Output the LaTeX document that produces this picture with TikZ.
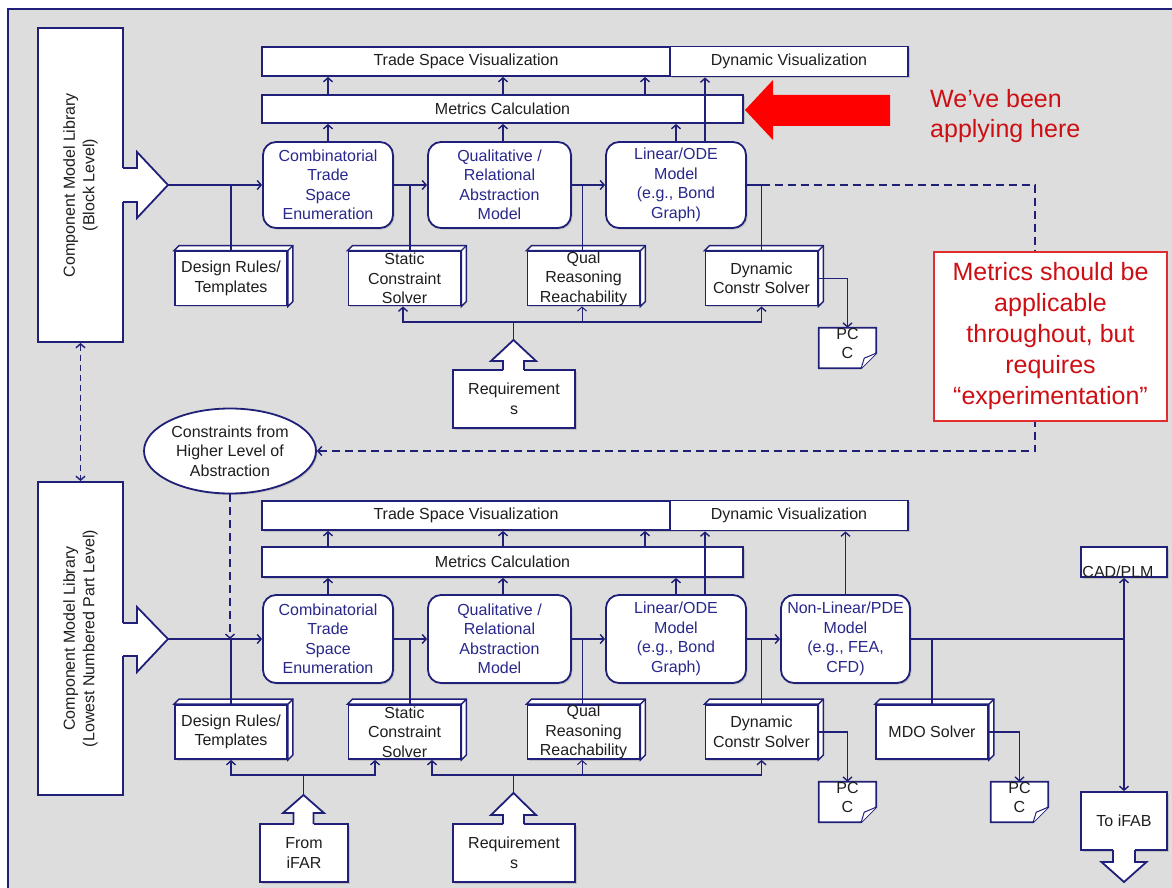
\documentclass[tikz,border=0pt]{standalone}
\usepackage{fontspec}
\setmainfont{Liberation Sans}
\usetikzlibrary{arrows.meta,shapes.geometric,shadows}
\definecolor{nv}{RGB}{32,32,120}
\definecolor{navytxt}{RGB}{40,40,140}
\definecolor{bgc}{RGB}{221,221,221}
\definecolor{txt}{RGB}{30,30,30}
\definecolor{redarrow}{RGB}{255,0,0}
\definecolor{redtxt}{RGB}{205,15,20}
\definecolor{redline}{RGB}{225,45,45}
\tikzset{
  bl/.style={draw=nv, line width=1.8pt},
  conn/.style={draw=nv, line width=1.4pt},
  arr/.style={conn, -{Straight Barb[length=4pt,width=9pt]}},
  barr/.style={conn, {Straight Barb[length=4pt,width=9pt]}-{Straight Barb[length=4pt,width=9pt]}},
  dsh/.style={dash pattern=on 8pt off 5pt},
  dshb/.style={dash pattern=on 6pt off 4pt},
  ftext/.style={font=\fontsize{16}{19.5}\selectfont},
  shd/.style={drop shadow={shadow xshift=1.5pt,shadow yshift=-1.5pt,opacity=0.3}},
  wboxns/.style={bl, fill=white, inner sep=0pt, ftext, text=txt, align=center},
  wbox/.style={wboxns, shd},
  rbox/.style={wbox, rounded corners=13pt, text=navytxt},
  cube/.style={wbox, minimum width=112pt, minimum height=54pt},
  lbl/.style={ftext, text=txt, align=center, inner sep=0pt},
}
\newcommand\cubenode[4]{%
  \node[cube] (#1) at (#2,#3) {};
  \draw[bl, line width=1.4pt, fill=white] (#1.north west) -- ++(5,-5) -- ([shift={(5,-5)}]#1.north east) -- ([shift={(5,-5)}]#1.south east) -- (#1.south east) -- (#1.north east) -- cycle;
  \draw[bl, line width=1.4pt] (#1.north east) -- ++(5,-5);
  \node[lbl] (#1t) at (#1) {#4};
}
\newcommand\docnode[4]{%
  \node[inner sep=0pt, minimum width=57pt, minimum height=40pt] (#1) at (#2,#3) {};
  \draw[bl, fill=white] (#1.north west) -- (#1.north east) -- ([yshift=15pt]#1.south east) -- ([xshift=-15pt]#1.south east) -- (#1.south west) -- cycle;
  \draw[bl, line width=1pt, fill=white] ([yshift=15pt]#1.south east) .. controls ([xshift=-6pt,yshift=12pt]#1.south east) .. ([xshift=-12pt,yshift=10pt]#1.south east) -- ([xshift=-15pt]#1.south east);
  \node[lbl] (#1t) at ([yshift=4.5pt]#1.center) {#4};
}
\newcommand\blkarr[7]{%
  \fill[white] ({#1-#5},#3) rectangle ({#1+#5},#7);
  \draw[bl, fill=white] ({#1-#5},#2) -- ({#1-#5},#3) -- ({#1-#6},#3) -- (#1,#4) -- ({#1+#6},#3) -- ({#1+#5},#3) -- ({#1+#5},#2);
}
\begin{document}
\begin{tikzpicture}[x=1pt,y=-1pt]
\useasboundingbox (0,0) rectangle (1172,888);
\fill[bgc] (8,9) rectangle (1172,888);
\draw[nv, line width=1.8pt] (8,888) -- (8,9) -- (1172,9);

% ---------- libraries ----------
\node[wboxns, rotate=90, minimum width=314pt, minimum height=85pt] (lib1) at (80.5,185) {Component Model Library\\(Block Level)};
\fill[white] (122,168) rectangle (137,202);
\draw[bl, fill=white] (123,168) -- (137,168) -- (137,152) -- (168,185) -- (137,218) -- (137,202) -- (123,202);
\coordinate (lib1tip) at (168,185);

\node[wboxns, rotate=90, minimum width=313pt, minimum height=85pt] (lib2) at (80.5,638.5) {Component Model Library\\(Lowest Numbered Part Level)};
\fill[white] (122,623) rectangle (137,656);
\draw[bl, fill=white] (123,623) -- (137,623) -- (137,607) -- (168,639) -- (137,672) -- (137,656) -- (123,656);
\coordinate (lib2tip) at (168,639);

% ---------- top section ----------
\node[wbox, minimum width=408pt, minimum height=29pt] (tsv1) at (466,61.5) {Trade Space Visualization};
\node[wbox, minimum width=238pt, minimum height=30pt] (dv1) at (789,61.5) {Dynamic Visualization};
\node[wbox, minimum width=481pt, minimum height=28pt] (met1) at (502.5,109) {Metrics Calculation};
\node[rbox, minimum width=130pt, minimum height=86pt] (comb1) at (328,185) {Combinatorial\\Trade\\Space\\Enumeration};
\node[rbox, minimum width=143pt, minimum height=86pt] (qual1) at (499.5,185) {Qualitative /\\Relational\\Abstraction\\Model};
\node[rbox, minimum width=140pt, minimum height=86pt] (lin1) at (676,185) {Linear/ODE\\Model\\(e.g., Bond\\Graph)};
\cubenode{dr1}{231}{278.5}{Design Rules/\\Templates}
\cubenode{sc1}{404.5}{278.5}{Static\\Constraint\\Solver}
\cubenode{qr1}{583.5}{278.5}{Qual\\Reasoning\\Reachability}
\cubenode{dcs1}{761.5}{278.5}{Dynamic\\Constr Solver}
\docnode{pcc1}{847.5}{348}{PC\\C}
\node[wbox, minimum width=122pt, minimum height=58pt] (req1) at (514,399) {Requirement\\s};
\blkarr{513.5}{370}{361}{340}{10.5}{22.5}{371.5}
\coordinate (req1tip) at (513.5,340);
\coordinate (bus1) at (513.5,322);

\fill[redarrow] (745,110) -- (773,80) -- (773,95) -- (890,95) -- (890,126) -- (773,126) -- (773,140) -- cycle;
\node[font=\fontsize{25}{30.5}\selectfont, text=redtxt, align=left, anchor=north west, inner sep=0pt] (weve) at (930,89) {We’ve been\\applying here};

\node[draw=nv, line width=1.8pt, fill=white, ellipse, shd, minimum width=172pt, minimum height=85pt, lbl] (ell) at (230,451) {Constraints from\\Higher Level of\\Abstraction};

% top connectors
\draw[arr] (lib1tip) -- (comb1.west);
\draw[arr] (comb1.east) -- (qual1.west);
\draw[arr] (qual1.east) -- (lin1.west);
\draw[conn] (dr1.north) -- (dr1.north |- lib1tip);
\draw[conn] ([xshift=5.5pt]sc1.north) -- ([xshift=5.5pt]sc1.north |- comb1.east);
\draw[conn, line width=1pt] ([xshift=-1.5pt]qr1.north) -- ([xshift=-1.5pt]qr1.north |- qual1.east);
\draw[conn] (dcs1.north) -- (dcs1.north |- lin1.east);
\draw[conn] (lin1.east) -- (dcs1.north |- lin1.east);
\coordinate (dcorner) at (1035,185);
\draw[arr, dsh] (dcs1.north |- lin1.east) -- (dcorner) |- (ell.east);
\draw[arr] (comb1.north) -- (comb1.north |- met1.south);
\draw[arr] ([xshift=3.5pt]qual1.north) -- ([xshift=3.5pt]qual1.north |- met1.south);
\draw[arr] (lin1.north) -- (lin1.north |- met1.south);
\draw[arr] (comb1.north |- met1.north) -- (comb1.north |- tsv1.south);
\draw[arr] ([xshift=3.5pt]qual1.north |- met1.north) -- ([xshift=3.5pt]qual1.north |- tsv1.south);
\draw[arr] ([xshift=-31pt]lin1.north |- met1.north) -- ([xshift=-31pt]lin1.north |- tsv1.south);
\draw[arr] ([xshift=29pt]lin1.north) -- ([xshift=29pt]lin1.north |- dv1.south);
\draw[conn] (req1tip) -- (bus1);
\draw[arr] (bus1) -| ([xshift=-1.5pt]sc1.south);
\draw[arr] (bus1) -| (dcs1.south);
\draw[arr, line width=1pt] ([xshift=-1.5pt]qr1.south |- bus1) -- ([xshift=-1.5pt]qr1.south);
\draw[arr] (dcs1.east) -| (pcc1.north);

\node[draw=redline, line width=1.3pt, fill=white, minimum width=233pt, minimum height=169pt, inner sep=0pt, align=center, text=redtxt, font=\fontsize{25}{31}\selectfont] (note) at (1050.5,336.5) {Metrics should be\\applicable\\throughout, but\\requires\\“experimentation”};

\draw[barr, dshb] (lib1.west) -- (lib2.east);

% ---------- bottom section ----------
\node[wbox, minimum width=408pt, minimum height=29pt] (tsv2) at (466,515.5) {Trade Space Visualization};
\node[wbox, minimum width=238pt, minimum height=30pt] (dv2) at (789,515.5) {Dynamic Visualization};
\node[wbox, minimum width=481pt, minimum height=30pt] (met2) at (502.5,562) {Metrics Calculation};
\node[rbox, minimum width=130pt, minimum height=88pt] (comb2) at (328,639) {Combinatorial\\Trade\\Space\\Enumeration};
\node[rbox, minimum width=143pt, minimum height=88pt] (qual2) at (499.5,639) {Qualitative /\\Relational\\Abstraction\\Model};
\node[rbox, minimum width=140pt, minimum height=88pt] (lin2) at (676,639) {Linear/ODE\\Model\\(e.g., Bond\\Graph)};
\node[rbox, minimum width=129pt, minimum height=88pt] (nl2) at (845.5,639) {Non-Linear/PDE\\Model\\(e.g., FEA,\\CFD)};
\cubenode{dr2}{231}{732}{Design Rules/\\Templates}
\cubenode{sc2}{404.5}{732}{Static\\Constraint\\Solver}
\cubenode{qr2}{583.5}{732}{Qual\\Reasoning\\Reachability}
\cubenode{dcs2}{761.5}{732}{Dynamic\\Constr Solver}
\cubenode{mdo2}{932}{732}{MDO Solver}
\docnode{pcc2}{847.5}{802}{PC\\C}
\docnode{pcc3}{1019.5}{802}{PC\\C}
\node[wbox, minimum width=86pt, minimum height=30pt] (cad) at (1124,562) {};
\node[lbl, anchor=base] (cadt) at (1118,577) {CAD/PLM};
\node[wbox, minimum width=86pt, minimum height=58pt] (toifab) at (1124,821) {To iFAB};
\blkarr{1124}{850}{862}{882}{11}{22.5}{848.5}
\node[wbox, minimum width=88pt, minimum height=58pt] (fib) at (304,853) {From\\iFAR};
\blkarr{303.5}{824}{813}{795}{10}{20.5}{825.5}
\node[wbox, minimum width=122pt, minimum height=58pt] (req2) at (514,853) {Requirement\\s};
\blkarr{513.5}{824}{815}{793}{10.5}{22.5}{825.5}
\coordinate (req2tip) at (513.5,793);
\coordinate (bus2) at (513.5,775);
\coordinate (fibtip) at (303.5,795);
\coordinate (bus3) at (303.5,775);
\coordinate (j2) at (1124,639);

% bottom connectors
\draw[arr] (lib2tip) -- (comb2.west);
\draw[arr] (comb2.east) -- (qual2.west);
\draw[arr] (qual2.east) -- (lin2.west);
\draw[arr] (lin2.east) -- (nl2.west);
\draw[arr, dsh] (ell.south) -- (ell.south |- lib2tip);
\draw[conn] (dr2.north) -- (dr2.north |- lib2tip);
\draw[conn] ([xshift=5.5pt]sc2.north) -- ([xshift=5.5pt]sc2.north |- comb2.east);
\draw[conn, line width=1pt] ([xshift=-1.5pt]qr2.north) -- ([xshift=-1.5pt]qr2.north |- qual2.east);
\draw[conn] (dcs2.north) -- (dcs2.north |- lin2.east);
\draw[conn] (nl2.east) -- (j2);
\draw[conn] (mdo2.north) -- (mdo2.north |- nl2.east);
\draw[barr] (cad.south) -- (toifab.north);
\draw[arr] (comb2.north) -- (comb2.north |- met2.south);
\draw[arr] ([xshift=3.5pt]qual2.north) -- ([xshift=3.5pt]qual2.north |- met2.south);
\draw[arr] (lin2.north) -- (lin2.north |- met2.south);
\draw[arr] (comb2.north |- met2.north) -- (comb2.north |- tsv2.south);
\draw[arr] ([xshift=3.5pt]qual2.north |- met2.north) -- ([xshift=3.5pt]qual2.north |- tsv2.south);
\draw[arr] ([xshift=-31pt]lin2.north |- met2.north) -- ([xshift=-31pt]lin2.north |- tsv2.south);
\draw[arr] ([xshift=29pt]lin2.north) -- ([xshift=29pt]lin2.north |- dv2.south);
\draw[arr] (nl2.north) -- (nl2.north |- dv2.south);
\draw[conn] (req2tip) -- (bus2);
\draw[arr] (bus2) -| ([xshift=27.5pt]sc2.south);
\draw[arr] (bus2) -| (dcs2.south);
\draw[arr, line width=1pt] ([xshift=-1.5pt]qr2.south |- bus2) -- ([xshift=-1.5pt]qr2.south);
\draw[conn] (fibtip) -- (bus3);
\draw[arr] (bus3) -| (dr2.south);
\draw[arr] (bus3) -| ([xshift=-29.5pt]sc2.south);
\draw[arr] (dcs2.east) -| (pcc2.north);
\draw[arr] (mdo2.east) -| (pcc3.north);
\end{tikzpicture}
\end{document}
